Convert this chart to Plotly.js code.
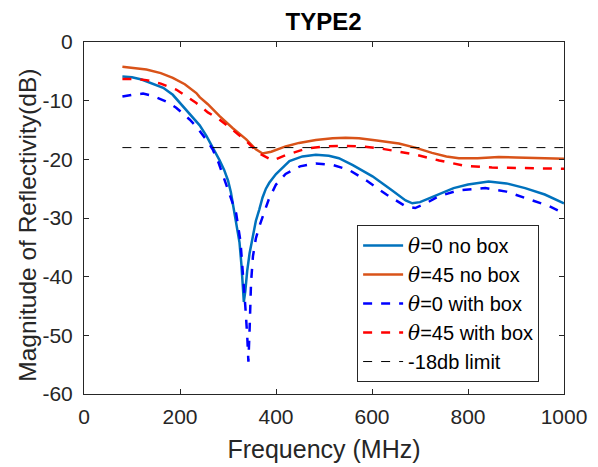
<!DOCTYPE html>
<html>
<head>
<meta charset="utf-8">
<script src="https://cdn.plot.ly/plotly-3.0.1.min.js"></script>
<style>html,body{margin:0;padding:0;background:#fff;}#chart{width:598px;height:467px;}</style>
</head>
<body>
<div id="chart"></div>
<script>
// theta = 0, no box
const f0nb = [80,100,120,140,165,185,206,225,241,255,268,282,292,300,306,312,318,324,328,331,333,336,340,345,350,358,365,372,379,386,400,428,455,483,510,531,560,601,640,670,684,700,720,739,770,800,843,880,919,960,1000];
const m0nb = [-5.9,-6.0,-6.4,-7.0,-7.8,-9.0,-10.9,-12.6,-14.2,-16.0,-17.9,-20.1,-21.8,-23.6,-25.6,-28.3,-31.3,-34.2,-38,-42,-44.3,-42.5,-39,-36,-34,-30.5,-28.6,-26.5,-25.0,-24.0,-22.5,-20.3,-19.5,-19.2,-19.4,-19.8,-21.0,-22.9,-25.2,-27.0,-27.5,-27.3,-26.6,-26.0,-24.9,-24.3,-23.8,-24.1,-24.9,-26.0,-27.5];
// theta = 45, no box
const f45nb = [80,105,130,160,185,210,234,241,258,282,310,338,358,372,390,420,448,483,518,545,573,610,656,690,725,755,781,820,864,900,950,1000];
const m45nb = [-4.2,-4.4,-4.7,-5.3,-6.1,-7.2,-8.7,-9.4,-10.6,-12.6,-14.7,-16.6,-18.3,-19.0,-18.7,-17.8,-17.2,-16.7,-16.4,-16.3,-16.4,-16.8,-17.3,-18.0,-18.9,-19.5,-19.8,-19.8,-19.6,-19.7,-19.8,-19.9];
// theta = 0, with box
const f0wb = [80,100,123,140,158,175,192,206,220,234,248,258,268,280,295,305,317,326,331,336,340,342.5,345,348,352,358,365,375,385,400,420,450,483,520,552,590,630,670,690,710,739,780,836,880,933,970,1000];
const m0wb = [-9.3,-9.0,-8.8,-9.1,-9.7,-10.3,-11.2,-12.2,-13.2,-14.4,-15.8,-17.0,-18.3,-20.5,-24,-26.5,-29.2,-34,-39,-45,-50,-54.5,-49,-41,-36.5,-33.5,-31.5,-29,-26.8,-24.3,-22.5,-21.2,-20.7,-21.0,-21.8,-23.7,-26,-28,-28.3,-27.6,-26.3,-25.3,-24.9,-25.5,-26.9,-28,-29.2];
// theta = 45, with box
const f45wb = [80,105,130,160,192,215,234,258,282,310,338,365,393,420,462,500,545,580,614,650,691,740,794,850,900,950,1000];
const m45wb = [-6.3,-6.3,-6.5,-7.1,-8.1,-9.3,-10.4,-12.0,-13.2,-15,-16.9,-19.0,-20.2,-19.3,-18.2,-17.8,-17.7,-17.8,-18.1,-18.6,-19.2,-20.2,-21.1,-21.4,-21.5,-21.5,-21.6];
// -18 dB limit
const fLimit = [80,1000];
const mLimit = [-18,-18];

const xTicks = [0,200,400,600,800,1000];
const yTicks = [-60,-50,-40,-30,-20,-10,0];

const th = '<span style="font-family:\'DejaVu Serif\',serif;font-style:italic">θ</span>';
const traces = [
  {x:f0nb, y:m0nb, name: th+'=0 no box', line:{color:'#0072BD', width:2.5}},
  {x:f45nb, y:m45nb, name: th+'=45 no box', line:{color:'#D95319', width:2.5}},
  {x:f0wb, y:m0wb, name: th+'=0 with box', line:{color:'#0000FF', width:2.5, dash:'dash'}},
  {x:f45wb, y:m45wb, name: th+'=45 with box', line:{color:'#FF0000', width:2.5, dash:'dash'}},
  {x:fLimit, y:mLimit, name:'-18db limit', line:{color:'#000000', width:1, dash:'dash'}}
].map((t)=>Object.assign({type:'scatter', mode:'lines'}, t));

const axisCommon = {
  showline:true, linecolor:'#262626', linewidth:1, mirror:'allticks',
  ticks:'inside', ticklen:5, tickcolor:'#262626', showgrid:false, zeroline:false,
  tickfont:{family:'Liberation Sans, Arial, sans-serif', size:21, color:'#262626'}
};

const layout = {
  width:598, height:467,
  margin:{l:84, r:34, t:42, b:73},
  paper_bgcolor:'#fff', plot_bgcolor:'#fff',
  font:{family:'Liberation Sans, Arial, sans-serif', color:'#262626'},
  title:{text:'<b>TYPE2</b>', font:{size:24, color:'#000'}, x:0.541, xanchor:'center', y:0.954, yanchor:'middle'},
  xaxis:Object.assign({}, axisCommon, {range:[0,1000], tickvals:xTicks, ticktext:xTicks.map(String), ticklabelstandoff:4,
    title:{text:'Frequency (MHz)', font:{size:25, color:'#262626'}, standoff:13}}),
  yaxis:Object.assign({}, axisCommon, {range:[-60,0], tickvals:yTicks, ticktext:yTicks.map(String), ticklabelstandoff:6}),
  annotations:[{text:'Magnitude of Reflectivity(dB)', textangle:-90, showarrow:false,
    xref:'paper', yref:'paper', x:-0.117, y:0.03, xanchor:'center', yanchor:'bottom',
    font:{size:24.5, color:'#262626'}}],
  showlegend:true,
  legend:{x:0.569, y:0.48, xanchor:'left', yanchor:'top', bgcolor:'#fff', bordercolor:'#262626', borderwidth:1,
    font:{size:20, color:'#000'}, itemwidth:40}
};

Plotly.newPlot('chart', traces, layout, {staticPlot:true, displayModeBar:false});
</script>
</body>
</html>
